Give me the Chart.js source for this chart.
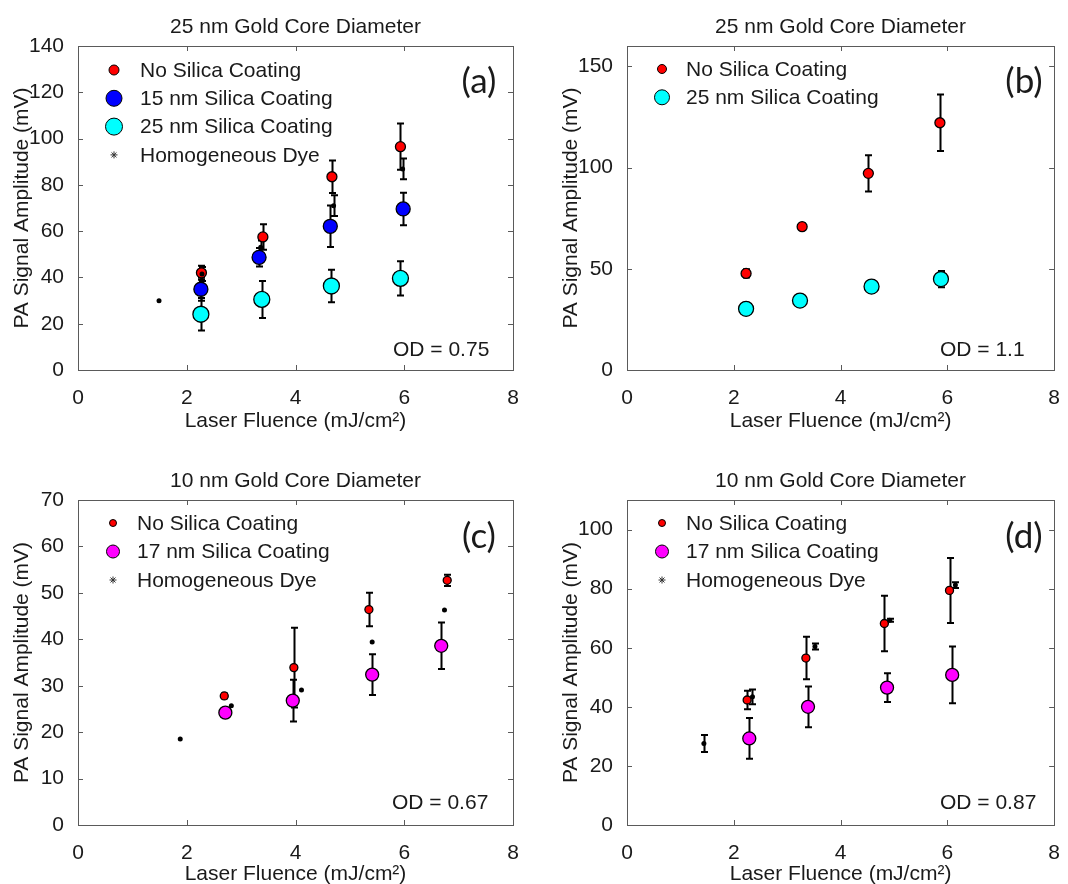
<!DOCTYPE html>
<html><head><meta charset="utf-8">
<script src="https://cdn.jsdelivr.net/npm/chart.js@4.4.1/dist/chart.umd.min.js"></script>
<style>
html,body{margin:0;padding:0;background:#fff;}
#wrap{position:relative;width:1068px;height:884px;overflow:hidden;background:#fff;}
canvas{position:absolute;}
</style></head><body>
<div id="wrap">
<canvas id="ca" width="534" height="442" style="left:0;top:0"></canvas>
<canvas id="cb" width="534" height="442" style="left:534px;top:0"></canvas>
<canvas id="cc" width="534" height="442" style="left:0;top:442px"></canvas>
<canvas id="cd" width="534" height="442" style="left:534px;top:442px"></canvas>
</div>
<script>
// ---------- tick labels ----------
const xTicks  = [0, 2, 4, 6, 8];
const yTicksA = [0, 20, 40, 60, 80, 100, 120, 140];
const yTicksB = [0, 50, 100, 150];
const yTicksC = [0, 10, 20, 30, 40, 50, 60, 70];
const yTicksD = [0, 20, 40, 60, 80, 100];

// ---------- texts ----------
const titleTop    = '25 nm Gold Core Diameter';
const titleBottom = '10 nm Gold Core Diameter';
const xAxisTitle  = 'Laser Fluence (mJ/cm²)';
const yAxisTitle  = 'PA Signal Amplitude (mV)';
const labelNo  = 'No Silica Coating';
const label15  = '15 nm Silica Coating';
const label25  = '25 nm Silica Coating';
const label17  = '17 nm Silica Coating';
const labelDye = 'Homogeneous Dye';

// ---------- panel (a): 25 nm core, OD 0.75 ----------
const aNoX  = [2.27, 3.40, 4.67, 5.93];
const aNoY  = [42.0, 57.5, 83.5, 96.5];
const aNoE  = [3.0, 5.5, 7.0, 10.0];
const a15X  = [2.26, 3.33, 4.64, 5.98];
const a15Y  = [34.9, 48.7, 62.1, 69.6];
const a15E  = [5.0, 4.0, 9.0, 7.0];
const a25X  = [2.26, 3.38, 4.66, 5.93];
const a25Y  = [24.1, 30.5, 36.3, 39.6];
const a25E  = [7.0, 8.0, 7.0, 7.4];
const aDyeX = [1.49, 2.28, 3.36, 4.70, 5.97];
const aDyeY = [29.9, 41.5, 53.0, 71.0, 86.9];
const aDyeE = [0, 3.0, 3.0, 4.5, 4.5];

// ---------- panel (b): 25 nm core, OD 1.1 ----------
const bNoX = [2.23, 3.28, 4.52, 5.86];
const bNoY = [47.7, 70.8, 97.1, 122.1];
const bNoE = [2.0, 1.5, 9.0, 14.0];
const b25X = [2.23, 3.24, 4.58, 5.88];
const b25Y = [30.2, 34.3, 41.2, 44.9];
const b25E = [1.0, 2.0, 1.0, 4.0];

// ---------- panel (c): 10 nm core, OD 0.67 ----------
const cNoX  = [2.69, 3.97, 5.35, 6.79];
const cNoY  = [27.8, 33.9, 46.4, 52.7];
const cNoE  = [0.5, 8.6, 3.6, 1.2];
const c17X  = [2.71, 3.95, 5.41, 6.68];
const c17Y  = [24.2, 26.8, 32.4, 38.6];
const c17E  = [0.5, 4.5, 4.4, 5.0];
const cDyeX = [1.88, 2.82, 4.11, 5.41, 6.74];
const cDyeY = [18.5, 25.7, 29.1, 39.4, 46.3];
const cDyeE = [0, 0, 0, 0, 0];

// ---------- panel (d): 10 nm core, OD 0.87 ----------
const dNoX  = [2.25, 3.35, 4.82, 6.04];
const dNoY  = [42.3, 56.5, 68.2, 79.4];
const dNoE  = [3.1, 7.2, 9.4, 11.0];
const d17X  = [2.29, 3.39, 4.87, 6.09];
const d17Y  = [29.3, 40.0, 46.5, 50.8];
const d17E  = [6.9, 6.9, 4.9, 9.6];
const dDyeX = [1.44, 2.35, 3.52, 4.92, 6.15];
const dDyeY = [27.6, 43.4, 60.4, 69.3, 81.2];
const dDyeE = [2.9, 2.5, 1.0, 0.5, 1.0];

// ---------- drawing ----------
const FONT = "'Liberation Sans', Arial, Helvetica, sans-serif";
const TXT = '#1a1a1a';
const FRAME = '#5a5a5a';

const panelPlugin = {
  id: 'panel',
  beforeDatasetsDraw(chart, args, o) {
    const ctx = chart.ctx, xs = chart.scales.x, ys = chart.scales.y;
    ctx.save();
    ctx.strokeStyle = '#000';
    ctx.lineWidth = 2;
    chart.data.datasets.forEach(ds => {
      (ds.errors || []).forEach((e, i) => {
        if (!e) return;
        const p = ds.data[i];
        const px = Math.round(xs.getPixelForValue(p.x)) + 0.5;
        const y1 = ys.getPixelForValue(p.y + e), y2 = ys.getPixelForValue(p.y - e);
        ctx.beginPath();
        ctx.moveTo(px, y1); ctx.lineTo(px, y2);
        ctx.moveTo(px - 3.5, y1); ctx.lineTo(px + 3.5, y1);
        ctx.moveTo(px - 3.5, y2); ctx.lineTo(px + 3.5, y2);
        ctx.stroke();
      });
    });
    ctx.restore();
  },
  afterDraw(chart, args, o) {
    const ctx = chart.ctx, a = chart.chartArea, xs = chart.scales.x, ys = chart.scales.y;
    ctx.save();
    // frame
    ctx.strokeStyle = FRAME; ctx.lineWidth = 1;
    ctx.strokeRect(Math.round(a.left) + 0.5, Math.round(a.top) + 0.5, Math.round(a.right - a.left), Math.round(a.bottom - a.top));
    // inward ticks on all four sides
    ctx.beginPath();
    xs.ticks.forEach(t => {
      const px = Math.round(xs.getPixelForValue(t.value)) + 0.5;
      ctx.moveTo(px, a.bottom); ctx.lineTo(px, a.bottom - 5);
      ctx.moveTo(px, a.top); ctx.lineTo(px, a.top + 5);
    });
    ys.ticks.forEach(t => {
      const py = Math.round(ys.getPixelForValue(t.value)) + 0.5;
      ctx.moveTo(a.left, py); ctx.lineTo(a.left + 5, py);
      ctx.moveTo(a.right, py); ctx.lineTo(a.right - 5, py);
    });
    ctx.stroke();
    // title
    ctx.fillStyle = TXT;
    ctx.font = '21px ' + FONT;
    ctx.textAlign = 'center'; ctx.textBaseline = 'alphabetic';
    const cx = (a.left + a.right) / 2;
    ctx.fillText(o.title, cx, o.titleY);
    // x axis title
    ctx.fillText(xAxisTitle, cx, o.xTitleY);
    // y axis title
    ctx.save();
    ctx.translate(o.yTitleX, (a.top + a.bottom) / 2);
    ctx.rotate(-Math.PI / 2);
    ctx.fillText(yAxisTitle, 0, 0);
    ctx.restore();
    // legend
    ctx.textAlign = 'left'; ctx.textBaseline = 'middle';
    o.legend.forEach((it, i) => {
      const ds = chart.data.datasets[it.ds];
      const y = o.legY + i * o.legDy;
      if (it.star) {
        ctx.strokeStyle = '#333'; ctx.lineWidth = 1;
        Chart.helpers.drawPoint(ctx, {pointStyle: 'star', radius: 3.5, rotation: 0, borderWidth: 1}, o.legMX, y);
      } else {
        ctx.fillStyle = ds.backgroundColor; ctx.strokeStyle = '#000'; ctx.lineWidth = 1;
        Chart.helpers.drawPoint(ctx, {pointStyle: 'circle', radius: it.r, rotation: 0, borderWidth: 1}, o.legMX, y);
      }
      ctx.fillStyle = TXT;
      ctx.fillText(ds.label, o.legTX, y + 1);
    });
    // OD text
    ctx.fillText(o.od, o.odX, o.odY);
    // panel letter
    ctx.font = "35px Lato, 'Open Sans', sans-serif";
    ctx.textAlign = 'center';
    ctx.fillText(o.letter, o.letX, o.letY);
    ctx.restore();
  }
};

function series(label, xs, ys, es, color, r, order) {
  return {
    label: label,
    data: xs.map((v, i) => ({x: v, y: ys[i]})),
    errors: es,
    backgroundColor: color,
    borderColor: '#000',
    borderWidth: r > 3 ? 1.3 : 0,
    pointRadius: r,
    pointHoverRadius: r,
    pointStyle: 'circle',
    order: order
  };
}

function makePanel(id, datasets, yTicks, yMax, geo, deco) {
  return new Chart(document.getElementById(id), {
    type: 'scatter',
    data: {datasets: datasets},
    options: {
      responsive: false, animation: false, devicePixelRatio: 1,
      events: [],
      layout: {padding: {left: 0, top: geo.top, right: geo.right, bottom: 0}},
      plugins: {legend: {display: false}, tooltip: {enabled: false}, panel: deco},
      scales: {
        x: {
          type: 'linear', min: 0, max: 8,
          afterBuildTicks: s => { s.ticks = xTicks.map(v => ({value: v})); },
          afterFit: s => { s.height = geo.xh; },
          grid: {display: false}, border: {display: false},
          ticks: {padding: 8, color: TXT, font: {family: FONT, size: 21}, maxRotation: 0, autoSkip: false}
        },
        y: {
          type: 'linear', min: 0, max: yMax,
          afterBuildTicks: s => { s.ticks = yTicks.map(v => ({value: v})); },
          afterFit: s => { s.width = geo.left; },
          grid: {display: false}, border: {display: false},
          ticks: {padding: 6, color: TXT, font: {family: FONT, size: 21}, autoSkip: false}
        }
      }
    },
    plugins: [panelPlugin]
  });
}

const RED = '#ff0000', BLUE = '#0000ff', CYAN = '#00ffff', MAG = '#ff00ff', BLK = '#000000';

makePanel('ca', [
  series(labelNo,  aNoX,  aNoY,  aNoE,  RED,  5, 1),
  series(label15,  a15X,  a15Y,  a15E,  BLUE, 7, 2),
  series(label25,  a25X,  a25Y,  a25E,  CYAN, 8, 3),
  series(labelDye, aDyeX, aDyeY, aDyeE, BLK,  2.5, 0)
], yTicksA, 140, {left: 78, top: 46, right: 21, xh: 72}, {
  title: titleTop, titleY: 33, xTitleY: 427, yTitleX: 28,
  legend: [{ds: 0, r: 5}, {ds: 1, r: 8}, {ds: 2, r: 8.5}, {ds: 3, star: true}],
  legMX: 114, legTX: 140, legY: 70, legDy: 28.3,
  od: 'OD = 0.75', odX: 393, odY: 350, letter: '(a)', letX: 479, letY: 82
});

makePanel('cb', [
  series(labelNo, bNoX, bNoY, bNoE, RED,  5, 0),
  series(label25, b25X, b25Y, b25E, CYAN, 7.5, 1)
], yTicksB, 160, {left: 93, top: 46, right: 8, xh: 72}, {
  title: titleTop, titleY: 33, xTitleY: 427, yTitleX: 43,
  legend: [{ds: 0, r: 4.5}, {ds: 1, r: 7.5}],
  legMX: 128, legTX: 152, legY: 69, legDy: 28.3,
  od: 'OD = 1.1', odX: 406, odY: 350, letter: '(b)', letX: 490, letY: 82
});

makePanel('cc', [
  series(labelNo,  cNoX,  cNoY,  cNoE,  RED, 4, 1),
  series(label17,  c17X,  c17Y,  c17E,  MAG, 6.5, 2),
  series(labelDye, cDyeX, cDyeY, cDyeE, BLK, 2.5, 0)
], yTicksC, 70, {left: 78, top: 58, right: 21, xh: 59}, {
  title: titleBottom, titleY: 45, xTitleY: 438, yTitleX: 28,
  legend: [{ds: 0, r: 3.5}, {ds: 1, r: 6.5}, {ds: 2, star: true}],
  legMX: 113, legTX: 137, legY: 81, legDy: 28.5,
  od: 'OD = 0.67', odX: 392, odY: 361, letter: '(c)', letX: 479, letY: 95
});

makePanel('cd', [
  series(labelNo,  dNoX,  dNoY,  dNoE,  RED, 4, 1),
  series(label17,  d17X,  d17Y,  d17E,  MAG, 6.5, 2),
  series(labelDye, dDyeX, dDyeY, dDyeE, BLK, 2.5, 0)
], yTicksD, 110, {left: 93, top: 58, right: 8, xh: 59}, {
  title: titleBottom, titleY: 45, xTitleY: 438, yTitleX: 43,
  legend: [{ds: 0, r: 3.5}, {ds: 1, r: 6.5}, {ds: 2, star: true}],
  legMX: 128, legTX: 152, legY: 81, legDy: 28.5,
  od: 'OD = 0.87', odX: 406, odY: 361, letter: '(d)', letX: 490, letY: 95
});
</script>
</body></html>
